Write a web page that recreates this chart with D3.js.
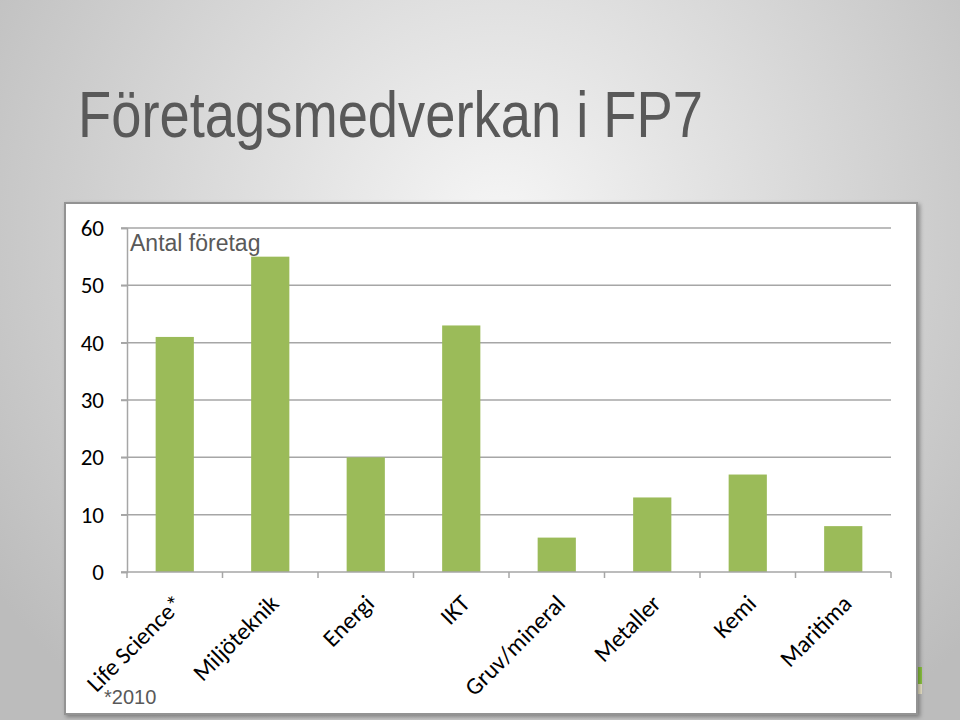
<!DOCTYPE html>
<html>
<head>
<meta charset="utf-8">
<script src="https://cdn.jsdelivr.net/npm/d3@7"></script>
<style>
  html, body { margin: 0; padding: 0; background: #fff; }
  svg { display: block; }
</style>
</head>
<body>
<svg id="chart" width="960" height="720"></svg>
<script>
const categories = ["Life Science*", "Miljöteknik", "Energi", "IKT", "Gruv/mineral", "Metaller", "Kemi", "Maritima"];
const values = [41, 55, 20, 43, 6, 13, 17, 8];
const yTicks = [0, 10, 20, 30, 40, 50, 60];
const titleText = "Företagsmedverkan i FP7";
const seriesLabel = "Antal företag";
const footnote = "*2010";

(function () {
const svg = d3.select("#chart");
const W = 960, H = 720;

const defs = svg.append("defs");
const rg = defs.append("radialGradient").attr("id", "bg")
  .attr("gradientUnits", "userSpaceOnUse")
  .attr("cx", 500).attr("cy", 230).attr("r", 620);
rg.append("stop").attr("offset", "0").attr("stop-color", "#f6f6f6");
rg.append("stop").attr("offset", "0.55").attr("stop-color", "#d6d6d6");
rg.append("stop").attr("offset", "1").attr("stop-color", "#bcbcbc");
const sh = defs.append("filter").attr("id", "shadow").attr("x", "-5%").attr("y", "-5%").attr("width", "110%").attr("height", "110%");
sh.append("feDropShadow").attr("dx", 2).attr("dy", 2).attr("stdDeviation", 2).attr("flood-color", "#000").attr("flood-opacity", 0.35);

svg.append("rect").attr("width", W).attr("height", H).attr("fill", "url(#bg)");

svg.append("text")
  .attr("x", 78).attr("y", 137)
  .attr("font-family", "'Liberation Sans Narrow', 'Arial Narrow', 'Liberation Sans', Arial, sans-serif")
  .attr("font-size", 64)
  .attr("fill", "#595959")
  .attr("textLength", 625).attr("lengthAdjust", "spacingAndGlyphs")
  .text(titleText);

svg.append("rect").attr("x", 913).attr("y", 667).attr("width", 9).attr("height", 17).attr("fill", "#8cc63f");
svg.append("rect").attr("x", 913).attr("y", 684).attr("width", 9).attr("height", 10).attr("fill", "#ece6c8");

svg.append("rect")
  .attr("x", 65).attr("y", 203).attr("width", 852).attr("height", 511)
  .attr("fill", "#fff").attr("stroke", "#939393").attr("stroke-width", 2)
  .attr("filter", "url(#shadow)");

const pLeft = 127, pRight = 891, pTop = 228, pBottom = 572;
const x = d3.scaleBand().domain(categories).range([pLeft, pRight]).paddingInner(0.6).paddingOuter(0.3);
const y = d3.scaleLinear().domain([0, 60]).range([pBottom, pTop]);

const axisFont = "Carlito, Calibri, Lato, 'Noto Sans', sans-serif";

svg.append("g").selectAll("line").data(yTicks.filter(d => d > 0)).join("line")
  .attr("x1", pLeft - 6).attr("x2", pRight)
  .attr("y1", d => y(d)).attr("y2", d => y(d))
  .attr("stroke", "#a6a6a6").attr("stroke-width", 1.5);

svg.append("g").selectAll("rect").data(values).join("rect")
  .attr("x", (d, i) => x(categories[i]))
  .attr("width", x.bandwidth())
  .attr("y", d => y(d))
  .attr("height", d => y(0) - y(d))
  .attr("fill", "#9bbb59");

const yAxis = svg.append("g").attr("transform", `translate(${pLeft},0)`)
  .call(d3.axisLeft(y).tickValues(yTicks).tickSize(6).tickPadding(17).tickFormat(d3.format("d")));
yAxis.select(".domain").attr("stroke", "#a6a6a6").attr("stroke-width", 1.5);
yAxis.selectAll(".tick line").attr("stroke", "#a6a6a6").attr("stroke-width", 1.5);
yAxis.selectAll(".tick text").attr("font-family", axisFont).attr("font-size", 23).attr("fill", "#000");

const boundaries = categories.map(c => x(c) - x.step() * x.paddingInner() / 2);
boundaries.push(pRight);
svg.append("line").attr("x1", pLeft - 6).attr("x2", pRight).attr("y1", pBottom).attr("y2", pBottom)
  .attr("stroke", "#a6a6a6").attr("stroke-width", 1.5);
svg.append("g").selectAll("line").data(boundaries).join("line")
  .attr("x1", d => d).attr("x2", d => d).attr("y1", pBottom).attr("y2", pBottom + 6)
  .attr("stroke", "#a6a6a6").attr("stroke-width", 1.5);

svg.append("g").selectAll("text").data(categories).join("text")
  .attr("transform", d => `translate(${x(d) + x.bandwidth() / 2 + 10},${605}) rotate(-45)`)
  .attr("text-anchor", "end")
  .attr("font-family", axisFont).attr("font-size", 24).attr("fill", "#000")
  .text(d => d);

svg.append("text").attr("x", 130).attr("y", 251)
  .attr("font-family", "'Liberation Sans', Arial, sans-serif").attr("font-size", 23)
  .attr("fill", "#595959").text(seriesLabel);

svg.append("text").attr("x", 104).attr("y", 704)
  .attr("font-family", "'Liberation Sans', Arial, sans-serif").attr("font-size", 20)
  .attr("fill", "#595959").text(footnote);
})();
</script>
</body>
</html>
